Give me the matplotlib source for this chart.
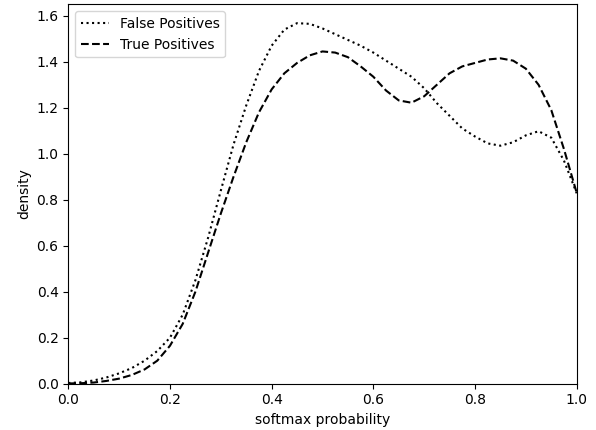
import matplotlib
matplotlib.use('Agg')
import matplotlib.pyplot as plt
import numpy as np

softmax = [0.0, 0.025, 0.05, 0.075, 0.1, 0.125, 0.15, 0.175, 0.2, 0.225,
           0.25, 0.275, 0.3, 0.325, 0.35, 0.375, 0.4, 0.425, 0.45, 0.475,
           0.5, 0.525, 0.55, 0.575, 0.6, 0.625, 0.65, 0.675, 0.7, 0.725,
           0.75, 0.775, 0.8, 0.825, 0.85, 0.875, 0.9, 0.925, 0.95, 0.975, 1.0]

false_pos = [0.003, 0.006, 0.014, 0.027, 0.045, 0.068, 0.100, 0.142, 0.200, 0.300,
             0.450, 0.635, 0.840, 1.040, 1.210, 1.360, 1.470, 1.540, 1.568, 1.565,
             1.545, 1.520, 1.495, 1.470, 1.440, 1.405, 1.370, 1.335, 1.285, 1.220,
             1.165, 1.110, 1.075, 1.045, 1.035, 1.050, 1.080, 1.098, 1.070, 0.970, 0.828]

true_pos = [0.001, 0.002, 0.005, 0.012, 0.022, 0.038, 0.062, 0.100, 0.165, 0.260,
            0.400, 0.570, 0.740, 0.900, 1.050, 1.180, 1.280, 1.350, 1.395, 1.428,
            1.445, 1.440, 1.420, 1.380, 1.335, 1.275, 1.232, 1.222, 1.250, 1.300,
            1.350, 1.380, 1.395, 1.410, 1.415, 1.405, 1.370, 1.300, 1.190, 1.020, 0.830]

fig, ax = plt.subplots(figsize=(5.96, 4.30), dpi=100)
fig.subplots_adjust(left=0.1146, right=0.9676, top=0.99, bottom=0.1077)

ax.plot(softmax, false_pos, color='black', linestyle=':', linewidth=1.5, label='False Positives')
ax.plot(softmax, true_pos, color='black', linestyle='--', linewidth=1.5, label='True Positives')

ax.set_xlim(0, 1)
ax.set_ylim(0, 1.65)
ax.set_xlabel('softmax probability')
ax.set_ylabel('density')
ax.legend(loc='upper left')

fig.savefig('out.png')
